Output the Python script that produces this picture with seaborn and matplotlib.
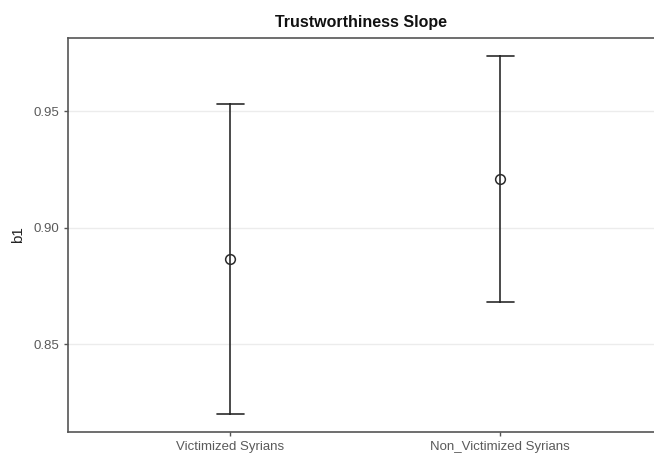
import pandas as pd
import seaborn as sns
import matplotlib.pyplot as plt

# values
groups = ["Victimized Syrians", "Non_Victimized Syrians"]
b1_est = [0.8866, 0.9207]
b1_low = [0.8199, 0.8682]
b1_high = [0.9529, 0.9737]
y_ticks = [0.85, 0.90, 0.95]

# long form: low / estimate / high per group, median = estimate, full range = CI
rows = []
for g, lo, est, hi in zip(groups, b1_low, b1_est, b1_high):
    for v in (lo, est, hi):
        rows.append({"group": g, "b1": v})
df = pd.DataFrame(rows)

sns.set_style("white")
plt.rcParams['font.family'] = ['Liberation Sans', 'DejaVu Sans']

fig = plt.figure(figsize=(6.54, 4.59), dpi=100)
ax = fig.add_axes([0.104, 0.059, 0.896, 0.858])

sns.pointplot(data=df, x="group", y="b1", order=groups,
              estimator="median", errorbar=("pi", 100),
              capsize=0.1, color="#2b2b2b", linestyle="none",
              marker="o", markersize=7, markerfacecolor="none",
              markeredgewidth=1.1, err_kws={"linewidth": 1.2}, ax=ax)
for line in ax.lines:
    line.set_markerfacecolor("none")

ax.set_xlim(-0.6, 1.57)
ax.set_ylim(0.8123, 0.9813)
ax.set_yticks(y_ticks)
ax.set_yticklabels([f"{t:.2f}" for t in y_ticks])
ax.yaxis.grid(True, color="#ececec", linewidth=1)
ax.xaxis.grid(False)
ax.set_axisbelow(True)

for side in ["left", "bottom", "top"]:
    ax.spines[side].set_color("#555555")
    ax.spines[side].set_linewidth(1.2)
ax.spines["right"].set_visible(False)

ax.tick_params(axis="both", colors="#555555", labelcolor="#5a5a5a",
               labelsize=9.5, length=3, width=1, direction="out",
               left=True, bottom=True)
ax.set_xlabel("")
ax.set_ylabel("b1", fontsize=11, color="#222222", labelpad=6)
ax.set_title("Trustworthiness Slope", fontsize=11.5, fontweight="bold",
             color="#111111", pad=8)

fig.savefig("out.png", dpi=100)
